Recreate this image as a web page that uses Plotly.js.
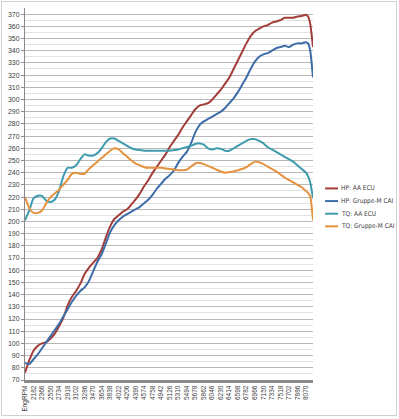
<!DOCTYPE html>
<html><head><meta charset="utf-8">
<script src="https://cdn.plot.ly/plotly-3.0.1.min.js"></script>
<style>
html,body{margin:0;padding:0;background:#fff;}
#wrap{position:relative;width:399px;height:419px;}
#chart{width:399px;height:419px;}
#frame{position:absolute;left:1px;top:1px;width:394px;height:413px;border:1px solid #d0d0d0;pointer-events:none;}
</style></head>
<body><div id="wrap"><div id="chart"></div><div id="frame"></div></div>
<script>
const rpm = [1998,2090,2182,2274,2366,2458,2550,2642,2734,2826,2918,3010,3102,3194,3286,3378,3470,3562,3654,3746,3838,3930,4022,4114,4206,4298,4390,4482,4574,4666,4758,4850,4942,5034,5126,5218,5310,5402,5494,5586,5678,5770,5862,5954,6046,6138,6230,6322,6414,6506,6598,6690,6782,6874,6966,7058,7150,7242,7334,7426,7518,7610,7702,7794,7886,7978,8070,8116,8162,8222];

const hpAA = [76,86,94,98,100,101,104,108,114,121,131,138,143,149,157,162,166,170,177,187,196,202,205,208,210,214,218,223,229,234,240,245,250,255,261,266,271,277,282,287,292,295,296,297,300,304,308,313,318,325,332,339,346,352,356,358,360,361,363,364,365,367,367,367,368,368.5,369.5,368,362,343];

const hpGM = [84,83,87,91,96,101,106,111,116,122,128,134,139,143,146,151,159,167,173,182,191,197,201,204,206,208,210,212,215,218,222,227,231,235,238,242,248,253,257,264,273,279,282,284,286,288,290,293,297,301,306,312,318,325,331,335,337,338,340,342,343,344,343,345,346,346,347,346,340,318];

const tqAA = [201,209,219,221,221,217,216,218,225,237,244,244,246,251,255,254,254,256,260,265,268,268,266,264,262,260,259,258.5,258,258,258,258,258,258,258,258.5,259,260,261,262,263.5,264,263,260,259,260,259.5,258,258,260,262,264,266,267.5,267.5,266,264,261,259,257,255,253,251,249,246,243,240,237,232,219];

const tqGM = [220,211,207,207,209,215,220,223,226,230,234,239,240,239,239,243,246,249,252,255,258,260,259,256,253,250,247.5,246,244.5,244,244,244,244,243.5,243,242.5,242,242,242.5,245,247.5,248,247,245.5,244,242.5,241,240,240.5,241,242,243,244.5,247,249,248.5,247,245,243,241,238.5,236,234,232,230,228,225,223.5,220.5,201];

const seriesNames = ['HP: AA ECU','HP: Gruppe-M CAI','TQ: AA ECU','TQ: Gruppe-M CAI'];
const seriesColors = ['#A23D3A','#3D6DA9','#3E9BAD','#E5923F'];

const tickRpm = [1998,2182,2366,2550,2734,2918,3102,3286,3470,3654,3838,4022,4206,4390,4574,4758,4942,5126,5310,5494,5678,5862,6046,6230,6414,6598,6782,6966,7150,7334,7518,7702,7886,8070];
const tickText = ['EngRPM','2182','2366','2550','2734','2918','3102','3286','3470','3654','3838','4022','4206','4390','4574','4758','4942','5126','5310','5494','5678','5862','6046','6230','6414','6598','6782','6966','7150','7334','7518','7702','7886','8070'];

const ys = [hpAA, hpGM, tqAA, tqGM];
const traces = ys.map((y,k)=>({
  x: rpm, y: y, type:'scatter', mode:'lines', name: seriesNames[k],
  line:{color: seriesColors[k], width:2, shape:'spline', smoothing:0.6},
  showlegend:false, hoverinfo:'skip'
}));

const fnt = {family:'Liberation Sans, Arial, sans-serif', size:7, color:'#404040'};
const legFnt = {family:'Liberation Sans Narrow, DejaVu Sans Condensed, Liberation Sans, sans-serif', size:6.5, color:'#404040'};

// custom legend (Excel style short line samples)
const legY = [0.515, 0.481, 0.447, 0.413];
const shapes = [];
const annotations = [];
seriesNames.forEach((n,k)=>{
  shapes.push({type:'line', xref:'paper', yref:'paper', x0:1.042, x1:1.087, y0:legY[k], y1:legY[k],
    line:{color:seriesColors[k], width:2}});
  annotations.push({xref:'paper', yref:'paper', x:1.09, y:legY[k], xanchor:'left', yanchor:'middle',
    text:n, showarrow:false, font:legFnt});
});

const layout = {
  width:399, height:419,
  margin:{l:25, r:86, t:8, b:39},
  paper_bgcolor:'#ffffff', plot_bgcolor:'#ffffff',
  showlegend:false,
  xaxis:{
    range:[1998,8222], tickmode:'array', tickvals:tickRpm, ticktext:tickText,
    tickangle:-90, tickfont:{family:fnt.family, size:6.5, color:'#404040'},
    showgrid:false, zeroline:false, showline:true, linecolor:'#8a8a8a', linewidth:3,
    ticks:'', fixedrange:true
  },
  yaxis:{
    range:[70,375], dtick:10, tick0:70, tickfont:fnt,
    showgrid:true, gridcolor:'#b8b8b8', gridwidth:1,
    minor:{dtick:5, showgrid:true, gridcolor:'#e2e2e2', gridwidth:1},
    zeroline:false, showline:true, linecolor:'#8a8a8a', linewidth:1,
    ticks:'outside', ticklen:3, tickcolor:'#8a8a8a', fixedrange:true
  },
  shapes: shapes,
  annotations: annotations
};

Plotly.newPlot('chart', traces, layout, {displayModeBar:false, staticPlot:true});
</script>
</body></html>
